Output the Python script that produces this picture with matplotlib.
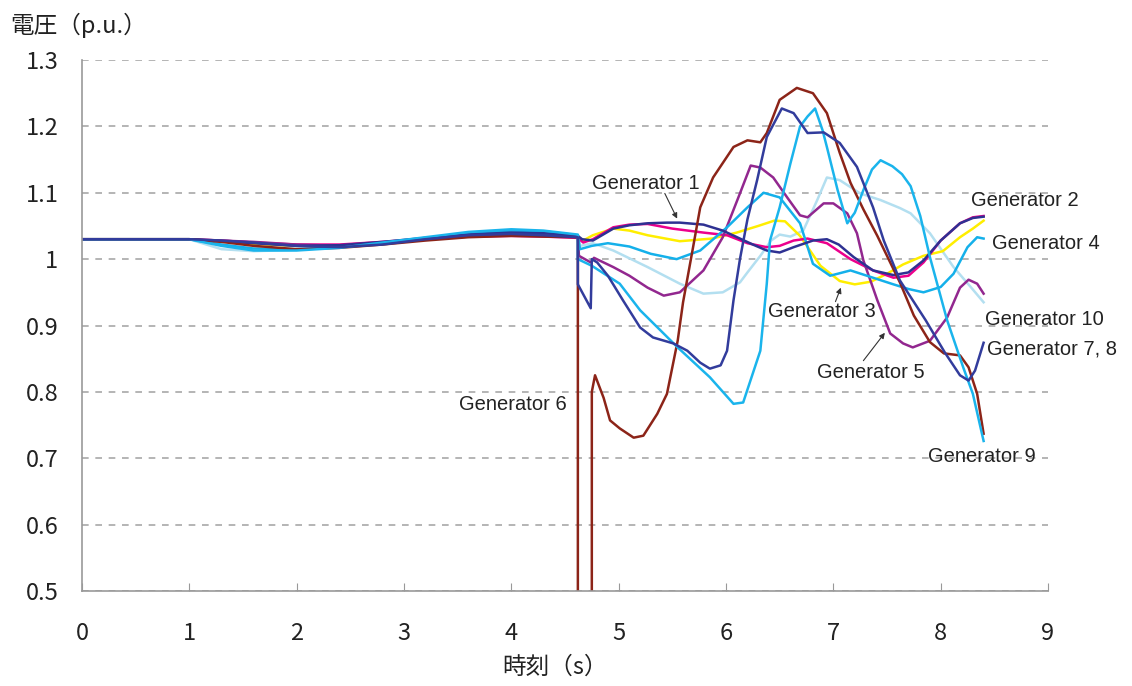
import matplotlib
matplotlib.use("Agg")

import numpy as np
import matplotlib.pyplot as plt

# pre-fault part, shared time base
t_pre = [0, 1.0, 1.3, 1.6, 2.0, 2.4, 2.8, 3.2, 3.6, 4.0, 4.3, 4.62]

g1_pre = [1.03, 1.03, 1.027, 1.024, 1.02, 1.021, 1.026, 1.032, 1.037, 1.040, 1.039, 1.035]
g2_pre = [1.03, 1.03, 1.028, 1.025, 1.022, 1.022, 1.026, 1.031, 1.034, 1.035, 1.034, 1.032]
g3_pre = [1.03, 1.03, 1.027, 1.023, 1.020, 1.021, 1.025, 1.030, 1.034, 1.036, 1.035, 1.033]
g4_pre = [1.03, 1.03, 1.022, 1.016, 1.015, 1.018, 1.024, 1.031, 1.038, 1.043, 1.042, 1.036]
g5_pre = [1.03, 1.03, 1.028, 1.026, 1.022, 1.020, 1.024, 1.030, 1.034, 1.036, 1.036, 1.034]
g6_pre = [1.03, 1.03, 1.026, 1.020, 1.015, 1.017, 1.022, 1.028, 1.033, 1.035, 1.034, 1.033]
g78_pre = [1.03, 1.03, 1.028, 1.025, 1.020, 1.018, 1.022, 1.030, 1.036, 1.038, 1.036, 1.033]
g9_pre = [1.03, 1.03, 1.020, 1.013, 1.013, 1.017, 1.025, 1.033, 1.041, 1.045, 1.043, 1.037]
g10_pre = [1.03, 1.03, 1.015, 1.012, 1.014, 1.018, 1.025, 1.032, 1.038, 1.042, 1.040, 1.036]

# post-fault part
g1_t = [4.62, 4.66, 4.76, 4.95, 5.1, 5.27, 5.45, 5.57, 5.79, 5.97, 6.13, 6.25, 6.38, 6.5, 6.63,
        6.81, 6.94, 7.05, 7.19, 7.37, 7.56, 7.7, 7.84, 8.0, 8.18, 8.3, 8.4]
g1_v = [1.035, 1.030, 1.028, 1.046, 1.051, 1.054, 1.055, 1.055, 1.052, 1.043, 1.031, 1.022, 1.013, 1.010, 1.018,
        1.028, 1.030, 1.022, 1.003, 0.983, 0.976, 0.980, 0.998, 1.028, 1.054, 1.062, 1.064]

g2_t = [4.62, 4.67, 4.76, 4.95, 5.1, 5.27, 5.5, 5.79, 6.01, 6.2, 6.38, 6.5, 6.63, 6.76, 6.94,
        7.16, 7.37, 7.56, 7.7, 7.84, 8.0, 8.18, 8.3, 8.4]
g2_v = [1.032, 1.025, 1.030, 1.048, 1.052, 1.053, 1.046, 1.040, 1.036, 1.024, 1.018, 1.020, 1.028, 1.031, 1.024,
        1.000, 0.983, 0.972, 0.975, 0.995, 1.028, 1.054, 1.063, 1.065]

g3_t = [4.62, 4.67, 4.76, 4.95, 5.1, 5.27, 5.57, 5.87, 6.1, 6.3, 6.45, 6.55, 6.69, 6.88, 7.06,
        7.2, 7.35, 7.5, 7.65, 7.84, 8.02, 8.18, 8.3, 8.4]
g3_v = [1.033, 1.028, 1.036, 1.046, 1.043, 1.036, 1.027, 1.031, 1.040, 1.050, 1.058, 1.057, 1.035, 0.990, 0.967,
        0.962, 0.966, 0.978, 0.992, 1.005, 1.012, 1.033, 1.046, 1.058]

g4_t = [4.62, 4.64, 4.75, 4.9, 5.1, 5.3, 5.54, 5.76, 6.01, 6.2, 6.35, 6.5, 6.69, 6.81, 6.97,
        7.16, 7.37, 7.56, 7.7, 7.84, 8.0, 8.12, 8.25, 8.34, 8.4]
g4_v = [1.036, 1.015, 1.020, 1.024, 1.019, 1.008, 1.000, 1.013, 1.048, 1.078, 1.100, 1.093, 1.054, 0.993, 0.975,
        0.983, 0.972, 0.962, 0.955, 0.950, 0.958, 0.978, 1.018, 1.033, 1.031]

g5_t = [4.62, 4.63, 4.74, 4.77, 4.95, 5.1, 5.27, 5.42, 5.57, 5.79, 5.97, 6.13, 6.23, 6.32, 6.44,
        6.57, 6.69, 6.76, 6.91, 7.0, 7.13, 7.22, 7.28, 7.41, 7.53, 7.65, 7.74, 7.9, 8.06, 8.18,
        8.26, 8.34, 8.4]
g5_v = [1.034, 1.005, 0.995, 1.002, 0.988, 0.975, 0.957, 0.945, 0.950, 0.983, 1.033, 1.099, 1.141, 1.138, 1.123,
        1.093, 1.066, 1.063, 1.084, 1.084, 1.069, 1.039, 0.998, 0.938, 0.888, 0.873, 0.867, 0.877, 0.912, 0.957,
        0.969, 0.963, 0.948]

g6_t = [4.62, 4.62, 4.75, 4.75, 4.78, 4.86, 4.92, 5.01, 5.14, 5.23, 5.36, 5.45, 5.55, 5.6, 5.69,
        5.76, 5.88, 6.07, 6.2, 6.32, 6.38, 6.5, 6.66, 6.81, 6.94, 7.06, 7.16, 7.28, 7.41, 7.5,
        7.62, 7.75, 7.9, 8.03, 8.18, 8.26, 8.34, 8.4]
g6_v = [1.033, 0.40, 0.40, 0.800, 0.825, 0.791, 0.757, 0.745, 0.731, 0.734, 0.767, 0.797, 0.877, 0.935, 1.015,
        1.078, 1.123, 1.169, 1.179, 1.176, 1.190, 1.240, 1.258, 1.250, 1.220, 1.160, 1.115, 1.075, 1.035, 1.005,
        0.965, 0.915, 0.875, 0.858, 0.855, 0.837, 0.797, 0.737]

g78_t = [4.62, 4.62, 4.74, 4.75, 4.8, 4.9, 5.04, 5.2, 5.32, 5.51, 5.64, 5.76, 5.85, 5.95, 6.01,
         6.07, 6.13, 6.2, 6.29, 6.38, 6.52, 6.63, 6.76, 6.91, 7.06, 7.22, 7.37, 7.47, 7.62, 7.86,
         8.04, 8.18, 8.26, 8.32, 8.4]
g78_v = [1.033, 0.962, 0.926, 1.000, 0.995, 0.975, 0.938, 0.897, 0.882, 0.873, 0.862, 0.844, 0.835, 0.840, 0.862,
         0.938, 1.000, 1.060, 1.119, 1.184, 1.227, 1.220, 1.190, 1.191, 1.175, 1.139, 1.078, 1.028, 0.968, 0.908,
         0.859, 0.825, 0.817, 0.832, 0.874]

g9_t = [4.62, 4.62, 4.75, 5.01, 5.2, 5.55, 5.85, 6.07, 6.16, 6.32, 6.38, 6.41, 6.5, 6.6, 6.69,
        6.76, 6.83, 6.9, 6.94, 7.04, 7.13, 7.2, 7.28, 7.36, 7.44, 7.55, 7.64, 7.72, 7.81, 7.9,
        8.06, 8.21, 8.3, 8.4]
g9_v = [1.037, 1.000, 0.990, 0.963, 0.923, 0.867, 0.822, 0.782, 0.784, 0.862, 0.963, 1.028, 1.078, 1.144, 1.200,
        1.215, 1.227, 1.194, 1.169, 1.104, 1.054, 1.070, 1.104, 1.135, 1.149, 1.140, 1.128, 1.110, 1.065, 1.003,
        0.908, 0.837, 0.797, 0.726]

g10_t = [4.62, 4.64, 4.76, 4.95, 5.27, 5.57, 5.79, 5.97, 6.13, 6.2, 6.32, 6.42, 6.5, 6.6, 6.72,
         6.85, 6.94, 7.06, 7.25, 7.44, 7.62, 7.72, 7.9, 8.12, 8.28, 8.4]
g10_v = [1.036, 1.020, 1.024, 1.013, 0.988, 0.963, 0.948, 0.950, 0.965, 0.980, 1.005, 1.028, 1.037, 1.034, 1.043,
         1.089, 1.123, 1.119, 1.099, 1.089, 1.077, 1.069, 1.039, 0.988, 0.958, 0.935]

series = [
    (g10_pre, g10_t, g10_v, "#b3dff0"),
    (g3_pre, g3_t, g3_v, "#ffee00"),
    (g2_pre, g2_t, g2_v, "#ec008c"),
    (g5_pre, g5_t, g5_v, "#92278f"),
    (g4_pre, g4_t, g4_v, "#14b0ea"),
    (g1_pre, g1_t, g1_v, "#2e3192"),
    (g6_pre, g6_t, g6_v, "#8c2418"),
    (g9_pre, g9_t, g9_v, "#1ab4ec"),
    (g78_pre, g78_t, g78_v, "#323c9c"),
]

yticks = [0.5, 0.6, 0.7, 0.8, 0.9, 1.0, 1.1, 1.2, 1.3]
ytick_labels = ["0.5", "0.6", "0.7", "0.8", "0.9", "1", "1.1", "1.2", "1.3"]
xticks = list(range(10))

plt.rcParams['font.family'] = ['Noto Sans CJK JP', 'DejaVu Sans']

fig = plt.figure(figsize=(11.32, 6.86), dpi=100)
ax = fig.add_axes([0.0724, 0.1385, 0.8534, 0.774])

for pre, t, v, col in series:
    ax.plot(t_pre + t[1:], pre + v[1:], color=col, lw=1.8, solid_joinstyle='round')

ax.set_xlim(0, 9)
ax.set_ylim(0.5, 1.3)
ax.set_xticks(xticks)
ax.set_xticklabels([str(x) for x in xticks])
ax.set_yticks(yticks)
ax.set_yticklabels(ytick_labels)
ax.yaxis.grid(True, linestyle=(0, (4, 4)), color='#a8a8a8', lw=1.2)
ax.set_axisbelow(True)
for s in ['top', 'right']:
    ax.spines[s].set_visible(False)
for s in ['left', 'bottom']:
    ax.spines[s].set_color('#999999')
    ax.spines[s].set_linewidth(1.2)
ax.tick_params(axis='x', direction='in', length=6, color='#999999', pad=22,
               labelsize=17, labelcolor='#222222')
ax.tick_params(axis='y', length=0, pad=17, labelsize=17, labelcolor='#222222')

fig.text(0.009, 0.963, "電圧（p.u.）", fontsize=17, color='#222222', va='center', ha='left')
fig.text(0.49, 0.028, "時刻（s）", fontsize=17, color='#222222', va='center', ha='center')

lab = dict(fontsize=14.5, color='#222222', family=['Liberation Sans', 'DejaVu Sans'])
arrow = dict(arrowstyle='-|>', color='#333333', lw=0.8, mutation_scale=8,
             shrinkA=0, shrinkB=0)

ax.text(5.25, 1.114, "Generator 1", ha='center', va='center', **lab)
ax.annotate("", xy=(5.545, 1.061), xytext=(5.43, 1.099), arrowprops=arrow)
ax.text(6.39, 0.921, "Generator 3", ha='left', va='center', **lab)
ax.annotate("", xy=(7.07, 0.957), xytext=(7.02, 0.936), arrowprops=arrow)
ax.text(6.85, 0.829, "Generator 5", ha='left', va='center', **lab)
ax.annotate("", xy=(7.48, 0.889), xytext=(7.28, 0.847), arrowprops=arrow)
ax.text(8.28, 1.089, "Generator 2", ha='left', va='center', **lab)
ax.text(8.48, 1.024, "Generator 4", ha='left', va='center', **lab)
ax.text(8.415, 0.909, "Generator 10", ha='left', va='center', **lab)
ax.text(8.434, 0.864, "Generator 7, 8", ha='left', va='center', **lab)
ax.text(3.51, 0.781, "Generator 6", ha='left', va='center', **lab)
ax.text(7.885, 0.702, "Generator 9", ha='left', va='center', **lab)

fig.savefig("out.png", dpi=100)
